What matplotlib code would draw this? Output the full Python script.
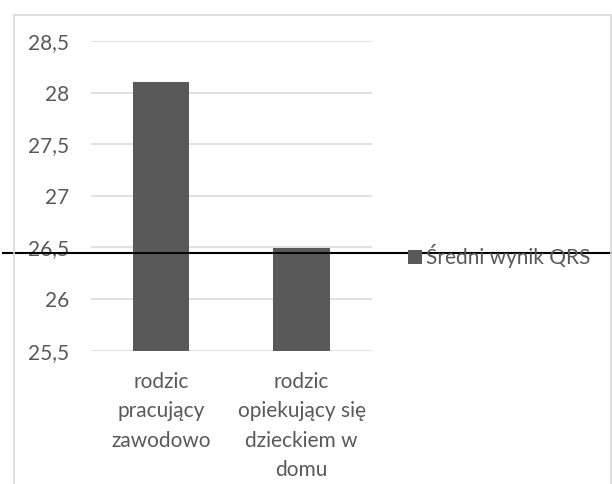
import matplotlib.pyplot as plt
from matplotlib.patches import Rectangle
from matplotlib.ticker import FuncFormatter, MultipleLocator

# średni wynik QRS w dwóch grupach rodziców
categories = ['rodzic\npracujący\nzawodowo', 'rodzic\nopiekujący się\ndzieckiem w\ndomu']
scores = [28.1, 26.49]
series_name = 'Średni wynik QRS'
marker_level = 26.445

plt.rcParams['font.family'] = ['Lato', 'DejaVu Sans']

fig = plt.figure(figsize=(6.12, 4.84), dpi=100)
ax = fig.add_axes([91 / 612, 1 - 350.7 / 484, 280.7 / 612, 309.7 / 484])

# ramka wykresu
fig.patches.append(Rectangle((13.5 / 612, -0.1), 597 / 612, 1.1 - 15 / 484,
                             transform=fig.transFigure, fill=False,
                             edgecolor='#d9d9d9', linewidth=1.2, zorder=0))

x = range(len(categories))
ax.bar(x, scores, 0.4, color='#595959', label=series_name, zorder=3)

ax.set_xlim(-0.5, 1.5)
ax.set_ylim(25.5, 28.5)
ax.yaxis.set_major_locator(MultipleLocator(0.5))
ax.yaxis.set_major_formatter(FuncFormatter(lambda v, p: ('%g' % v).replace('.', ',')))
ax.grid(axis='y', color='#d9d9d9', linewidth=1.1, zorder=0)
ax.set_xticks(list(x))
ax.set_xticklabels(categories, linespacing=1.6)
for s in ax.spines.values():
    s.set_visible(False)
ax.tick_params(axis='both', length=0, labelsize=15, labelcolor='#595959')
ax.tick_params(axis='y', pad=16)
ax.tick_params(axis='x', pad=15)

ax.legend(loc='center left', bbox_to_anchor=(1.10, 0.305), frameon=False,
          fontsize=15, labelcolor='#595959', handlelength=0.65, handleheight=0.65,
          handletextpad=0.2, borderaxespad=0)

# pozioma linia odniesienia przez cały rysunek
ax.axhline(marker_level, xmin=-0.315, xmax=1.86, color='black', linewidth=1.5,
           clip_on=False, zorder=5)

fig.savefig('out.png', dpi=100)
